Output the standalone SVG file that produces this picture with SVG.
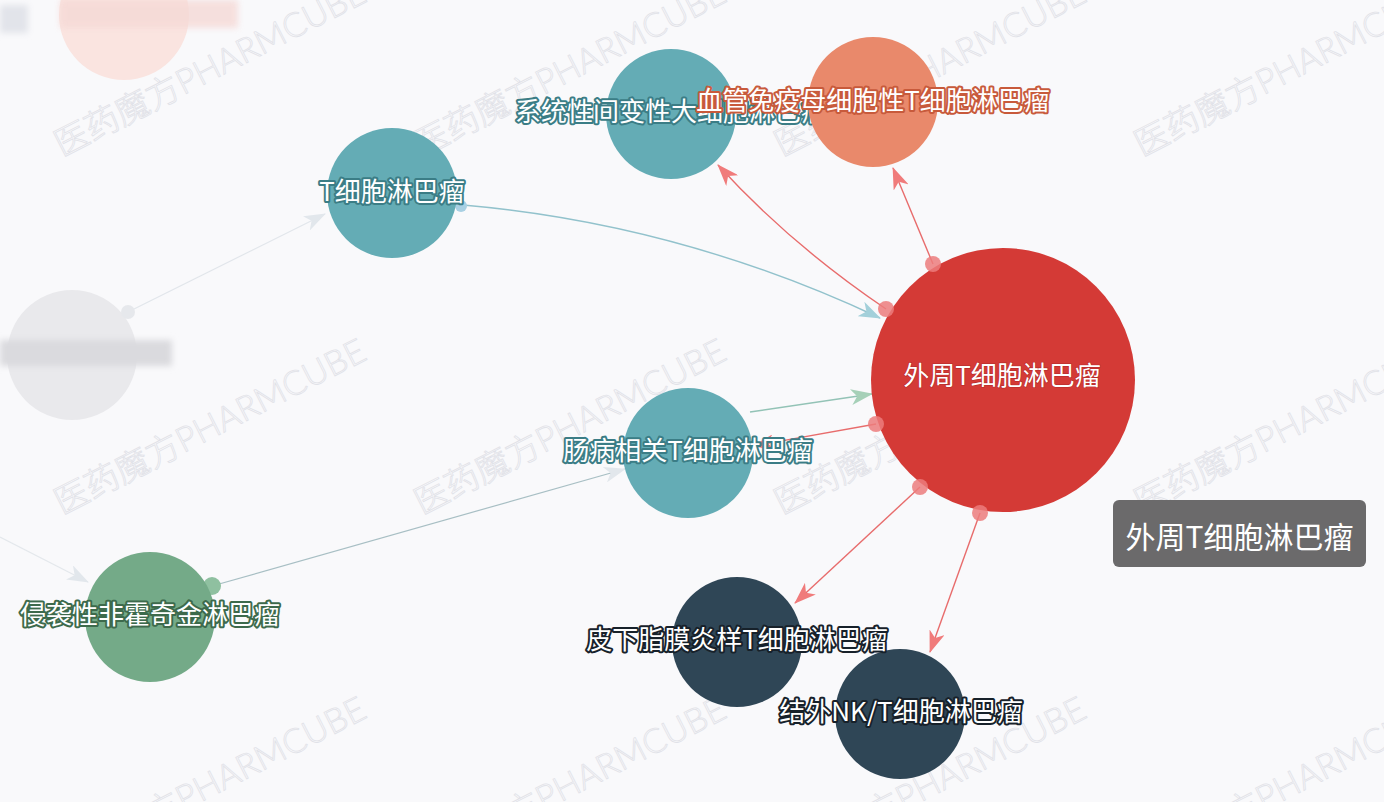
<svg xmlns="http://www.w3.org/2000/svg" width="1384" height="802" viewBox="0 0 1384 802">
<defs>
<style>
text{font-family:"Noto Sans CJK SC","Noto Sans",sans-serif;}
.lbl{font-size:26px;fill:#ffffff;text-anchor:middle;paint-order:stroke;stroke-width:4px;stroke-linejoin:round;}
.teal{stroke:#3b7d86;}
.orng{stroke:#c85a3b;}
.grn{stroke:#3d6a4c;}
.dark{stroke:#17212a;}
.wm{font-size:34px;fill:none;stroke:#e1e2e8;stroke-width:0.8;font-family:"Lato","Noto Sans CJK SC",sans-serif;font-weight:300;}
.eRed{fill:none;stroke:#e86c6c;stroke-width:1.4;}
.dotR{fill:#ec7c7c;fill-opacity:0.85;}
</style>
<marker id="aR" viewBox="0 0 22 16" refX="21" refY="8" markerWidth="22" markerHeight="16" markerUnits="userSpaceOnUse" orient="auto"><path d="M22,8 L0,0 L6,8 L0,16 Z" fill="#f07b7b"/></marker>
<marker id="aT" viewBox="0 0 22 16" refX="21" refY="8" markerWidth="22" markerHeight="16" markerUnits="userSpaceOnUse" orient="auto"><path d="M22,8 L0,0 L6,8 L0,16 Z" fill="#a3d0da"/></marker>
<marker id="aG" viewBox="0 0 22 16" refX="21" refY="8" markerWidth="22" markerHeight="16" markerUnits="userSpaceOnUse" orient="auto"><path d="M22,8 L0,0 L6,8 L0,16 Z" fill="#a6d0b8"/></marker>
<marker id="aF" viewBox="0 0 22 16" refX="21" refY="8" markerWidth="22" markerHeight="16" markerUnits="userSpaceOnUse" orient="auto"><path d="M22,8 L0,0 L6,8 L0,16 Z" fill="#e2e7ec"/></marker>
<filter id="blur" x="-20%" y="-50%" width="140%" height="200%"><feGaussianBlur stdDeviation="3"/></filter>
</defs>
<rect width="1384" height="802" fill="#f9f9fb"/>

<g id="watermarks">
<text class="wm" transform="translate(62,157) rotate(-27)">医药魔方PHARMCUBE</text>
<text class="wm" transform="translate(422,157) rotate(-27)">医药魔方PHARMCUBE</text>
<text class="wm" transform="translate(782,157) rotate(-27)">医药魔方PHARMCUBE</text>
<text class="wm" transform="translate(1142,157) rotate(-27)">医药魔方PHARMCUBE</text>
<text class="wm" transform="translate(62,515) rotate(-27)">医药魔方PHARMCUBE</text>
<text class="wm" transform="translate(422,515) rotate(-27)">医药魔方PHARMCUBE</text>
<text class="wm" transform="translate(782,515) rotate(-27)">医药魔方PHARMCUBE</text>
<text class="wm" transform="translate(1142,515) rotate(-27)">医药魔方PHARMCUBE</text>
<text class="wm" transform="translate(62,873) rotate(-27)">医药魔方PHARMCUBE</text>
<text class="wm" transform="translate(422,873) rotate(-27)">医药魔方PHARMCUBE</text>
<text class="wm" transform="translate(782,873) rotate(-27)">医药魔方PHARMCUBE</text>
<text class="wm" transform="translate(1142,873) rotate(-27)">医药魔方PHARMCUBE</text>
</g>

<g id="faded">
<circle cx="124" cy="15" r="65" fill="#fae4e0"/>
<rect x="60" y="0" width="178" height="28" fill="#f5d9d6" opacity="0.8" filter="url(#blur)"/>
<rect x="0" y="5" width="28" height="28" fill="#e2e4ea" filter="url(#blur)"/>
<circle cx="72" cy="355" r="65" fill="#e9e9ec"/>
<rect x="0" y="340" width="172" height="26" fill="#dadade" filter="url(#blur)"/>
</g>

<g id="connectors">
<path d="M0,537 L88,582" fill="none" stroke="#e4e8ec" stroke-width="1.2" marker-end="url(#aF)"/>
<path d="M130,311 L325,214" fill="none" stroke="#e2e6eb" stroke-width="1.2" marker-end="url(#aF)"/>
<circle cx="128" cy="312" r="7" fill="#e6e8ec"/>
<path d="M463,205 Q680,224 880,318" fill="none" stroke="#92c2cc" stroke-width="1.4" marker-end="url(#aT)"/>
<circle cx="461" cy="206" r="6" fill="#a8d0e3"/>
<path d="M212,586 L625,469" fill="none" stroke="#a8bfc4" stroke-width="1.2" marker-end="url(#aF)"/>
<circle cx="212" cy="586" r="9" fill="#8fc0a0"/>
<path d="M750,412 L872,394" fill="none" stroke="#93c3b6" stroke-width="1.4" marker-end="url(#aG)"/>
<path class="eRed" d="M886,309 Q790,244 718,165" marker-end="url(#aR)"/>
<path class="eRed" d="M933,264 L893,168" marker-end="url(#aR)"/>
<path class="eRed" d="M876,424 L753,446" marker-end="url(#aR)"/>
<path class="eRed" d="M920,487 L795,603" marker-end="url(#aR)"/>
<path class="eRed" d="M980,513 L930,652" marker-end="url(#aR)"/>
</g>

<g id="node-tcell">
<circle cx="392" cy="193" r="65" fill="#64acb5"/>
<text class="lbl teal" x="392" y="201">T细胞淋巴瘤</text>
</g>
<g id="node-alcl">
<circle cx="671" cy="114" r="65" fill="#64acb5"/>
<text class="lbl teal" x="671" y="121">系统性间变性大细胞淋巴瘤</text>
</g>
<g id="node-aitl">
<circle cx="873" cy="102" r="65" fill="#e9896b"/>
<text class="lbl orng" x="873" y="110">血管免疫母细胞性T细胞淋巴瘤</text>
</g>
<g id="node-eatl">
<circle cx="688" cy="453" r="65" fill="#64acb5"/>
<text class="lbl teal" x="688" y="460">肠病相关T细胞淋巴瘤</text>
</g>
<g id="node-nhl">
<circle cx="150" cy="617" r="65" fill="#74aa88"/>
<text class="lbl grn" x="150" y="624">侵袭性非霍奇金淋巴瘤</text>
</g>
<g id="node-enkt">
<circle cx="900" cy="714" r="65" fill="#2f4656"/>
<text class="lbl dark" x="901" y="721">结外NK/T细胞淋巴瘤</text>
</g>
<g id="node-spt">
<circle cx="737" cy="642" r="65" fill="#2f4656"/>
<text class="lbl dark" x="737" y="649">皮下脂膜炎样T细胞淋巴瘤</text>
</g>
<g id="node-ptcl">
<circle cx="1003" cy="380" r="132" fill="#d43a36"/>
<circle class="dotR" cx="933" cy="264" r="8"/>
<circle class="dotR" cx="886" cy="309" r="8"/>
<circle class="dotR" cx="876" cy="424" r="8"/>
<circle class="dotR" cx="920" cy="487" r="8"/>
<circle class="dotR" cx="980" cy="513" r="8"/>
<text x="1002" y="385" font-size="26" fill="#ffffff" text-anchor="middle" stroke="#b52a2a" stroke-width="1.2" paint-order="stroke">外周T细胞淋巴瘤</text>
</g>

<g id="tooltip">
<rect x="1113" y="500" width="253" height="67" rx="6" fill="#6b6a6b"/>
<text x="1239.5" y="548" font-size="30" fill="#ffffff" text-anchor="middle">外周T细胞淋巴瘤</text>
</g>
</svg>
